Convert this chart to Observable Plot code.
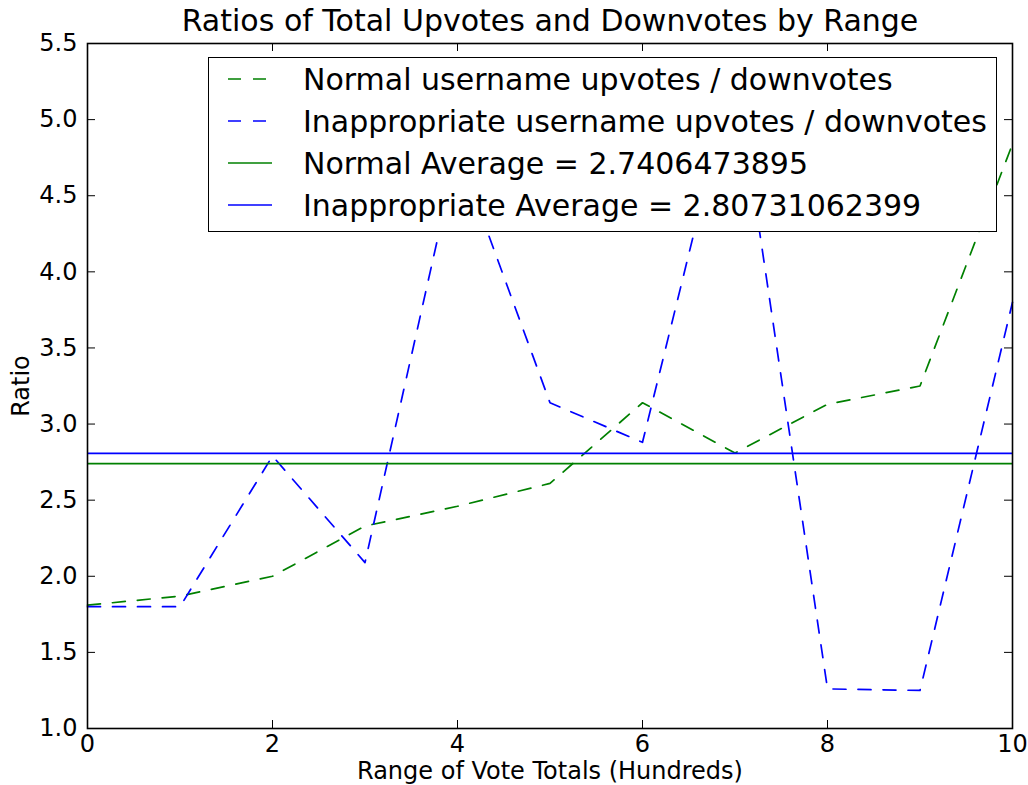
<!DOCTYPE html>
<html>
<head>
<meta charset="utf-8">
<script src="https://cdn.jsdelivr.net/npm/d3@7"></script>
<script src="https://cdn.jsdelivr.net/npm/@observablehq/plot@0.6"></script>
<style>
  body { margin: 0; background: #fff; }
  #wrap { position: relative; width: 1028px; height: 785px; font-family: "DejaVu Sans", sans-serif; }
  #legend { position: absolute; left: 208px; top: 57px; width: 787px; height: 173px;
            border: 1.5px solid #000; background: #fff; }
  .row { position: absolute; left: 0; height: 40px; display: flex; align-items: center; }
  .row svg { margin-left: 19px; }
  .row span { margin-left: 31px; font-size: 30px; color: #000; white-space: nowrap; }
</style>
</head>
<body>
<div id="wrap"></div>
<script>
const titleText = "Ratios of Total Upvotes and Downvotes by Range";
const xLabel = "Range of Vote Totals (Hundreds)";
const yLabel = "Ratio";
const ranges = [0, 1, 2, 3, 4, 5, 6, 7, 8, 9, 10];
const normalRatios = [1.81, 1.87, 2.00, 2.33, 2.46, 2.61, 3.14, 2.81, 3.13, 3.25, 4.84];
const inappropriateRatios = [1.80, 1.80, 2.79, 2.09, 4.80, 3.14, 2.88, 5.35, 1.26, 1.25, 3.80];
const normalAverage = 2.7406473895;
const inappropriateAverage = 2.80731062399;
const xTicks = [0, 2, 4, 6, 8, 10];
const yTicks = [1.0, 1.5, 2.0, 2.5, 3.0, 3.5, 4.0, 4.5, 5.0, 5.5];
const seriesNames = ["Normal username upvotes / downvotes", "Inappropriate username upvotes / downvotes",
                     "Normal Average = 2.7406473895", "Inappropriate Average = 2.80731062399"];
const seriesColors = ["#008000", "#0000ff", "#008000", "#0000ff"];
const seriesDashed = [true, true, false, false];

const normalData = ranges.map((x, i) => ({x, y: normalRatios[i]}));
const inapData = ranges.map((x, i) => ({x, y: inappropriateRatios[i]}));

const W = 1028, H = 785;
const mT = 43, mB = 57, mL = 87, mR = 16;
const innerW = W - mL - mR, innerH = H - mT - mB;
const dash = "13,12";
const tickLen = 8;

const chart = Plot.plot({
  width: W, height: H,
  marginTop: mT, marginBottom: mB, marginLeft: mL, marginRight: mR,
  style: {fontFamily: "DejaVu Sans, sans-serif", fontSize: "24px", background: "#fff", color: "#000"},
  x: {domain: [0, 10]},
  y: {domain: [1, 5.5]},
  marks: [
    Plot.axisX({ticks: xTicks, tickSize: 0, tickPadding: 6, tickFormat: d3.format("d"),
                label: xLabel, labelAnchor: "center", labelArrow: "none", labelOffset: 50}),
    Plot.axisY({ticks: yTicks, tickSize: 0, tickPadding: 10, tickFormat: d3.format(".1f"),
                label: yLabel, labelAnchor: "center", labelArrow: "none", labelOffset: 76}),
    Plot.line(normalData, {x: "x", y: "y", stroke: seriesColors[0], strokeWidth: 1.7, strokeDasharray: dash}),
    Plot.line(inapData, {x: "x", y: "y", stroke: seriesColors[1], strokeWidth: 1.7, strokeDasharray: dash}),
    Plot.ruleY([normalAverage], {stroke: seriesColors[2], strokeWidth: 1.7}),
    Plot.ruleY([inappropriateAverage], {stroke: seriesColors[3], strokeWidth: 1.7}),
    Plot.ruleX(xTicks, {x: d => d, insetTop: innerH - tickLen, stroke: "#000"}),
    Plot.ruleX(xTicks, {x: d => d, insetBottom: innerH - tickLen, stroke: "#000"}),
    Plot.ruleY(yTicks, {y: d => d, insetRight: innerW - tickLen, stroke: "#000"}),
    Plot.ruleY(yTicks, {y: d => d, insetLeft: innerW - tickLen, stroke: "#000"}),
    Plot.frame({stroke: "#000", strokeWidth: 1.6}),
    Plot.text([titleText], {frameAnchor: "top", dy: -22, text: d => d, fontSize: 30, lineAnchor: "middle", fill: "#000"})
  ]
});

const wrap = document.getElementById("wrap");
wrap.appendChild(chart);

const legend = document.createElement("div");
legend.id = "legend";
const rowTops = [1, 43, 85, 127];
seriesNames.forEach((name, i) => {
  const row = document.createElement("div");
  row.className = "row";
  row.style.top = rowTops[i] + "px";
  const sw = d3.create("svg").attr("width", 44).attr("height", 10);
  sw.append("line").attr("x1", 0).attr("x2", 44).attr("y1", 5).attr("y2", 5)
    .attr("stroke", seriesColors[i]).attr("stroke-width", 1.7)
    .attr("stroke-dasharray", seriesDashed[i] ? "13,12" : null);
  row.appendChild(sw.node());
  const t = document.createElement("span");
  t.textContent = name;
  row.appendChild(t);
  legend.appendChild(row);
});
wrap.appendChild(legend);
</script>
</body>
</html>
